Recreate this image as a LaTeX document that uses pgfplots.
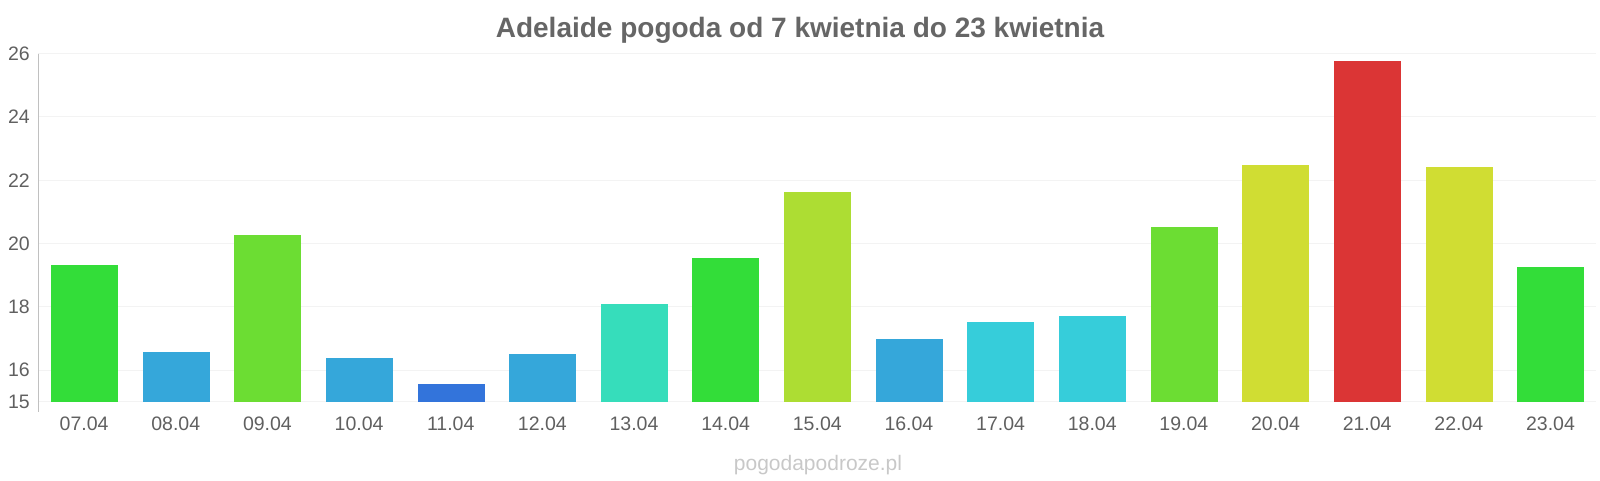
\documentclass[border=0pt]{standalone}
\usepackage{pgfplots}
\pgfplotsset{compat=1.18}
\usepackage{fontspec}
\setmainfont{Liberation Sans}
\definecolor{cgreen}{HTML}{33DD39}
\definecolor{cblue}{HTML}{35A7DA}
\definecolor{clime}{HTML}{6CDD33}
\definecolor{cdblue}{HTML}{3374DB}
\definecolor{cteal}{HTML}{36DDBB}
\definecolor{cyelgr}{HTML}{ADDD33}
\definecolor{ccyan}{HTML}{36CDDA}
\definecolor{cyellow}{HTML}{D0DD33}
\definecolor{cred}{HTML}{DB3535}
\definecolor{txt}{HTML}{606060}
\definecolor{ttl}{HTML}{666666}
\definecolor{foot}{HTML}{C8C8C8}
\definecolor{gridc}{HTML}{F3F3F3}
\definecolor{axc}{HTML}{C0C0C0}
\begin{document}
\begin{tikzpicture}[x=1pt,y=1pt]
\useasboundingbox (0,0) rectangle (1600,480);
\begin{axis}[
  name=ax,
  at={(38.3pt,78.3pt)}, anchor=south west,
  scale only axis, width=1558pt, height=348pt,
  xmin=-0.5, xmax=16.5, ymin=15, ymax=26,
  ybar, bar width=66pt,
  axis line style={draw=none},
  major tick length=0pt,
  xtick={0,...,16},
  xticklabels={07.04,08.04,09.04,10.04,11.04,12.04,13.04,14.04,15.04,16.04,17.04,18.04,19.04,20.04,21.04,22.04,23.04},
  ytick={15,16,18,20,22,24,26},
  ymajorgrids, grid style={gridc, line width=1pt},
  /pgf/number format/assume math mode=true,
  tick label style={font=\fontsize{19.5}{22}\selectfont, text=txt},
  yticklabel style={xshift=-5pt},
  xticklabel style={yshift=-12pt},
  every axis plot/.append style={bar shift=0pt},
]
\addplot[fill=cgreen, draw=cgreen] coordinates {(0,19.32)};
\addplot[fill=cblue, draw=cblue] coordinates {(1,16.57)};
\addplot[fill=clime, draw=clime] coordinates {(2,20.25)};
\addplot[fill=cblue, draw=cblue] coordinates {(3,16.37)};
\addplot[fill=cdblue, draw=cdblue] coordinates {(4,15.55)};
\addplot[fill=cblue, draw=cblue] coordinates {(5,16.5)};
\addplot[fill=cteal, draw=cteal] coordinates {(6,18.09)};
\addplot[fill=cgreen, draw=cgreen] coordinates {(7,19.53)};
\addplot[fill=cyelgr, draw=cyelgr] coordinates {(8,21.63)};
\addplot[fill=cblue, draw=cblue] coordinates {(9,16.97)};
\addplot[fill=ccyan, draw=ccyan] coordinates {(10,17.5)};
\addplot[fill=ccyan, draw=ccyan] coordinates {(11,17.7)};
\addplot[fill=clime, draw=clime] coordinates {(12,20.51)};
\addplot[fill=cyellow, draw=cyellow] coordinates {(13,22.47)};
\addplot[fill=cred, draw=cred] coordinates {(14,25.77)};
\addplot[fill=cyellow, draw=cyellow] coordinates {(15,22.4)};
\addplot[fill=cgreen, draw=cgreen] coordinates {(16,19.24)};
\end{axis}
\draw[axc, line width=1pt] (ax.north west) -- (ax.south west) -- ++(0,-10);
\node[anchor=base, text=ttl, font=\fontsize{28}{32}\selectfont\bfseries] at (800,442.5) {Adelaide pogoda od 7 kwietnia do 23 kwietnia};
\node[anchor=base, text=foot, font=\fontsize{21}{24}\selectfont] at (818,10) {pogodapodroze.pl};
\end{tikzpicture}
\end{document}
